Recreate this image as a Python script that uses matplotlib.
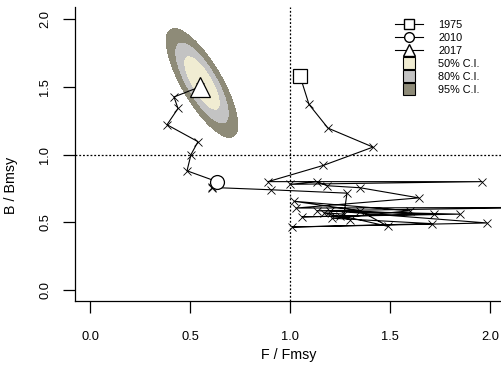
import numpy as np
import matplotlib
matplotlib.use("Agg")
import matplotlib.pyplot as plt
from matplotlib.lines import Line2D

# ---- data ----
years = list(range(1975, 2018))
f_fmsy = [1.05, 1.095, 1.19, 1.415, 1.167, 0.89,             # 1975-1980
          1.96, 1.00, 1.135, 1.185, 1.35, 1.645, 1.03, 2.30,   # 1981-1988
          1.135, 1.85, 1.06, 1.72, 1.20, 1.985, 1.01, 1.71,    # 1989-1996
          1.21, 1.60, 1.02, 1.35, 1.49, 1.25, 1.30, 1.17,      # 1997-2004
          1.27, 1.285, 0.905, 0.61, 0.61, 0.635,               # 2005-2010
          0.485, 0.505, 0.54, 0.385, 0.44, 0.42, 0.55]          # 2011-2017
b_bmsy = [1.58, 1.37, 1.195, 1.055, 0.92, 0.80,
          0.80, 0.78, 0.80, 0.77, 0.755, 0.68, 0.605, 0.61,
          0.585, 0.56, 0.54, 0.56, 0.585, 0.495, 0.465, 0.49,
          0.53, 0.585, 0.655, 0.585, 0.47, 0.55, 0.52, 0.57,
          0.56, 0.715, 0.74, 0.757, 0.755, 0.80,
          0.88, 1.00, 1.095, 1.22, 1.34, 1.425, 1.50]

ci_center = [0.56, 1.528]            # F/Fmsy, B/Bmsy
ci_sd = [0.0731, 0.164]
ci_corr = -0.772
ci_levels = [0.50, 0.80, 0.95]
ci_colors = ["#F0ECD2", "#C3C3C3", "#8E8B78"]
ci_labels = ["50% C.I.", "80% C.I.", "95% C.I."]

x_ticks = [0.0, 0.5, 1.0, 1.5, 2.0]
y_ticks = [0.0, 0.5, 1.0, 1.5, 2.0]

# ---- figure ----
plt.rcParams['font.family'] = ['Liberation Sans', 'DejaVu Sans']
W, H = 502, 371
fig = plt.figure(figsize=(W / 100, H / 100), dpi=100)
ax = fig.add_axes([75 / W, (H - 301) / H, 1 - 75 / W, (301 - 7) / H])
ax.set_xlim(-0.075, 2.06)
ax.set_ylim(-0.081, 2.089)

# confidence regions (bivariate normal contours)
gx = np.linspace(0.15, 1.0, 500)
gy = np.linspace(0.85, 2.25, 500)
GX, GY = np.meshgrid(gx, gy)
sx, sy = ci_sd
dx = (GX - ci_center[0]) / sx
dy = (GY - ci_center[1]) / sy
r = ci_corr
Q = (dx ** 2 - 2 * r * dx * dy + dy ** 2) / (1 - r ** 2)
for lev, col in zip(ci_levels[::-1], ci_colors[::-1]):
    q = -2 * np.log(1 - lev)
    ax.contourf(GX, GY, Q, levels=[-1, q], colors=[col], zorder=1)

# reference lines
ax.axvline(1.0, color="black", linestyle=(0, (1.5, 1.5)), linewidth=0.9, zorder=2)
ax.axhline(1.0, color="black", linestyle=(0, (1.5, 1.5)), linewidth=0.9, zorder=2)

# trajectory
ax.plot(f_fmsy, b_bmsy, color="black", linewidth=0.8, marker="x",
        markersize=5.5, markeredgewidth=0.6, zorder=3)
i1975 = years.index(1975)
i2010 = years.index(2010)
i2017 = years.index(2017)
ax.plot(f_fmsy[i1975], b_bmsy[i1975], marker="s", markersize=10.5,
        mfc="white", mec="black", mew=0.9, zorder=4)
ax.plot(f_fmsy[i2010], b_bmsy[i2010], marker="o", markersize=10,
        mfc="white", mec="black", mew=0.9, zorder=4)
ax.plot(f_fmsy[i2017], b_bmsy[i2017], marker="^", markersize=15,
        mfc="white", mec="black", mew=0.9, zorder=4)

# axes styling
for s in ["top", "right"]:
    ax.spines[s].set_visible(False)
for s in ["left", "bottom"]:
    ax.spines[s].set_linewidth(0.9)
ax.set_xticks(x_ticks)
ax.set_yticks(y_ticks)
ax.set_xticklabels([f"{v:.1f}" for v in x_ticks])
ax.set_yticklabels([])
ax.tick_params(axis="x", length=8.5, width=0.9, labelsize=9.3, pad=13)
ax.tick_params(axis="y", length=8.5, width=0.9)
ytrans = ax.get_yaxis_transform()
for v in y_ticks:
    ax.text((45 - 75) / (W - 75), v, f"{v:.1f}", transform=ytrans,
            rotation=90, ha="center", va="center", fontsize=9.3, clip_on=False)
ax.set_xlabel("F / Fmsy", fontsize=10.3, labelpad=4)
ax.set_ylabel("B / Bmsy", fontsize=10.3)
ax.yaxis.set_label_coords(18 / W, 0.5, transform=fig.transFigure)

# legend
handles = [
    Line2D([], [], color="black", lw=0.8, marker="s", markersize=6.5, mfc="white", mec="black"),
    Line2D([], [], color="black", lw=0.8, marker="o", markersize=7, mfc="white", mec="black"),
    Line2D([], [], color="black", lw=0.8, marker="^", markersize=8, mfc="white", mec="black"),
]
for col in ci_colors:
    handles.append(Line2D([], [], linestyle="none", marker="s", markersize=9,
                          mfc=col, mec="black", mew=0.8))
labels = ["1975", "2010", "2017"] + ci_labels
leg = ax.legend(handles, labels, loc="upper left", frameon=False, fontsize=7.8,
                bbox_to_anchor=(395 / W, 1 - 20 / H), bbox_transform=fig.transFigure,
                handlelength=2.6, handletextpad=1.4, labelspacing=0.28,
                borderpad=0, borderaxespad=0)

fig.savefig("out.png", dpi=100)
